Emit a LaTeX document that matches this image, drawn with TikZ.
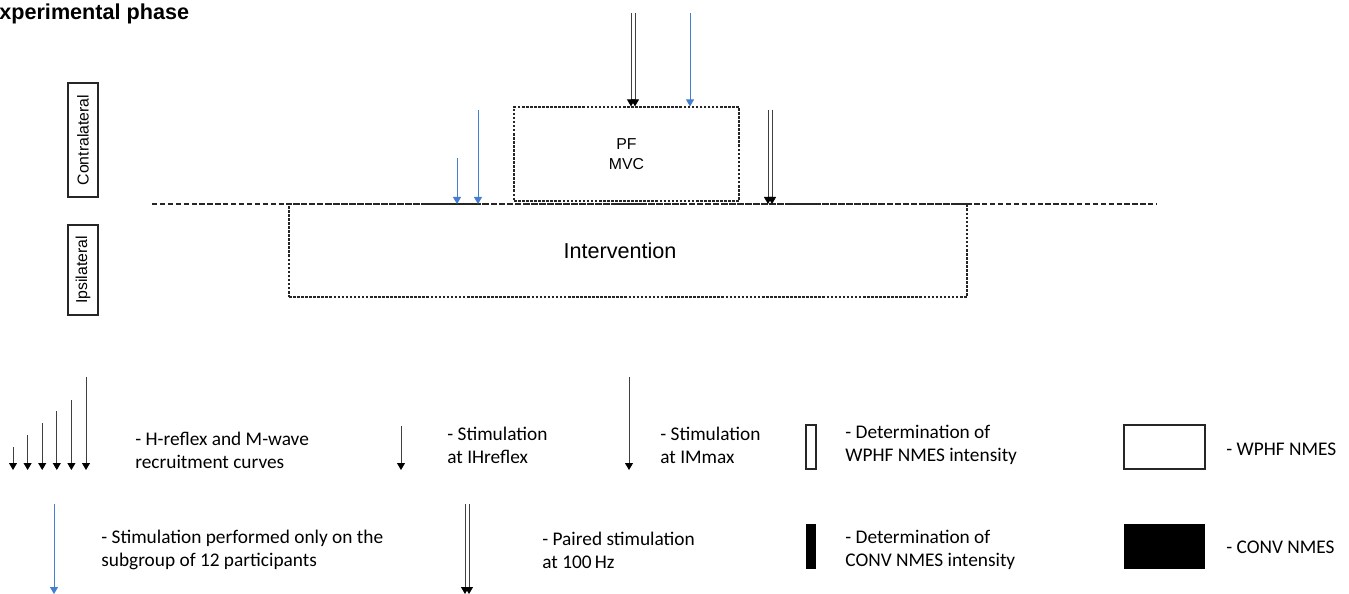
\documentclass[tikz,border=0pt]{standalone}
\usepackage{fontspec}
\setmainfont{Liberation Sans}
\newfontfamily\legendfont{Carlito}
\usetikzlibrary{arrows.meta,positioning}
\definecolor{subblue}{RGB}{68,126,206}

\tikzset{
  stim/.style={draw=black!75, line width=0.5pt,
    -{Triangle[length=1.4mm,width=1.6mm,color=black]}},
  stimsub/.style={draw=subblue, line width=0.5pt,
    -{Triangle[length=1.4mm,width=1.6mm,color=subblue]}},
  phasebox/.style={draw=black!85, dash pattern=on 1.5pt off 0.8pt, line width=0.7pt},
  sidebox/.style={draw=black!85, line width=0.8pt, rotate=90, minimum height=0.6cm,
    font=\fontsize{9}{11}\selectfont},
  divide/.style={draw=black!85, line width=0.6pt, dash pattern=on 3pt off 1.5pt},
  legtext/.style={anchor=west, inner sep=0pt, align=left,
    font=\legendfont\fontsize{11}{13}\selectfont},
}

\begin{document}
\begin{tikzpicture}[x=0.02cm, y=-0.02cm]

  \useasboundingbox (0,0) rectangle (1349,594);

  \node[anchor=base west, inner sep=0pt, font=\bfseries\fontsize{12.3}{14}\selectfont]
    (title) at (-1,20) {xperimental phase};

  % sides
  \node[sidebox, minimum width=2.28cm] (contra) at (83,140) {Contralateral};
  \node[sidebox, minimum width=1.8cm] (ipsi) at (83,270) {Ipsilateral};

  % phases
  \draw[divide] (152,204) coordinate (divL) -- (1157,204) coordinate (divR);
  \node[phasebox, minimum width=13.56cm, minimum height=1.86cm] (interv) at (628,250.5) {};
  \node[font=\fontsize{12.3}{14}\selectfont] (intervlbl) at ([xshift=-0.16cm]interv.center) {Intervention};
  \node[phasebox, align=center, minimum width=4.5cm, minimum height=1.88cm,
    font=\fontsize{9}{11}\selectfont] (pf) at (626.5,154) {PF\\MVC};

  % stimulations
  \foreach \x in {631,635} {
    \coordinate (top\x) at (\x,13);
    \draw[stim] (top\x) -- (top\x |- pf.north);
  }
  \coordinate (topsub) at (690,13);
  \draw[stimsub] (topsub) -- (topsub |- pf.north);

  \foreach \x/\y in {457/158, 478/110} {
    \coordinate (pre\x) at (\x,\y);
    \draw[stimsub] (pre\x) -- (pre\x |- divL);
  }
  \foreach \x in {768,772} {
    \coordinate (post\x) at (\x,110);
    \draw[stim] (post\x) -- (post\x |- divL);
  }

  % legend, first row
  \foreach \i/\y in {0/447, 1/435, 2/423, 3/411, 4/400, 5/377} {
    \draw[stim] (13+14.6*\i,\y) -- (13+14.6*\i,470);
  }
  \node[legtext] (lrec) at (135,450) {- H-reflex and M-wave\\recruitment curves};

  \draw[stim] (401,426) -- (401,470);
  \node[legtext] (lhref) at (447,445) {- Stimulation\\at IHreflex};

  \draw[stim] (629,377) -- (629,470);
  \node[legtext] (lmmax) at (660,445) {- Stimulation\\at IMmax};

  \draw[draw=black!85, line width=0.6pt] (806,425) rectangle (816,469);
  \node[legtext] (lwdet) at (845,445) {- Determination of\\WPHF NMES intensity};

  \draw[draw=black!85, line width=0.6pt] (1124,425) rectangle (1205,469);
  \node[legtext] (lwphf) at (1226,449) {- WPHF NMES};

  % legend, second row
  \draw[stimsub] (54,504) -- (54,594);
  \node[legtext] (lsub) at (101,550) {- Stimulation performed only on the\\subgroup of 12 participants};

  \foreach \x in {465,469} {
    \draw[stim] (\x,504) -- (\x,594);
  }
  \node[legtext] (lpair) at (542,550) {- Paired stimulation\\at 100\,Hz};

  \fill[black] (806,524) rectangle (816,569);
  \node[legtext] (lcdet) at (845,550) {- Determination of\\CONV NMES intensity};

  \fill[black] (1124,524) rectangle (1205,569);
  \node[legtext] (lconv) at (1226,547) {- CONV NMES};

\end{tikzpicture}
\end{document}
